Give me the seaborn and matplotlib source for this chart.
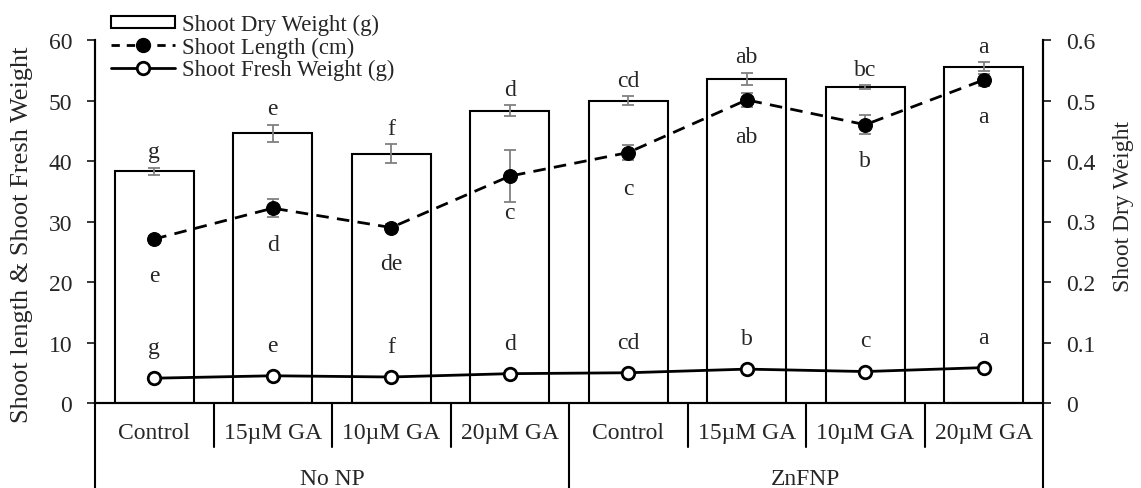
import numpy as np
import pandas as pd
import matplotlib
matplotlib.use("Agg")
import matplotlib.pyplot as plt
import matplotlib.transforms as mtransforms
from matplotlib.patches import Patch
from matplotlib.lines import Line2D
import seaborn as sns

# values
groups = ["No NP", "ZnFNP"]
treatments = ["Control", "15\u00b5M GA", "10\u00b5M GA", "20\u00b5M GA"]

dry_weight = [0.383, 0.446, 0.412, 0.483, 0.500, 0.536, 0.522, 0.556]
dry_err = [0.006, 0.014, 0.016, 0.009, 0.007, 0.010, 0.003, 0.007]
dry_letters = ["g", "e", "f", "d", "cd", "ab", "bc", "a"]

shoot_length = [27.1, 32.2, 29.0, 37.5, 41.4, 50.1, 46.0, 53.4]
length_err = [0.5, 1.5, 0.6, 4.3, 1.3, 1.2, 1.6, 1.0]
length_letters = ["e", "d", "de", "c", "c", "ab", "b", "a"]

fresh_weight = [4.1, 4.5, 4.3, 4.85, 5.0, 5.6, 5.2, 5.85]
fresh_letters = ["g", "e", "f", "d", "cd", "b", "c", "a"]

sns.set_style("white")
plt.rcParams["font.family"] = ["Liberation Serif", "DejaVu Serif"]

df = pd.DataFrame({
    "pos": np.arange(len(dry_weight)),
    "dry": dry_weight,
    "length": shoot_length,
    "fresh": fresh_weight,
})

fig = plt.figure(figsize=(11.41, 4.89), dpi=100)
ax = fig.add_axes([95 / 1141, 85 / 489, 948 / 1141, 363 / 489])

# bars on the right hand scale
sns.barplot(data=df, x="pos", y="dry", ax=ax, color="white", saturation=1,
            edgecolor="black", linewidth=1.5, width=0.67, errorbar=None)
ax.errorbar(df["pos"], df["dry"], yerr=dry_err, fmt="none", ecolor="#808080",
            elinewidth=1.3, capsize=4, capthick=1.3)
ax.set_ylim(0, 0.6)
ax.set_xlim(-0.5, 7.5)

# lines on the left hand scale
axl = ax.twinx()
sns.lineplot(data=df, x="pos", y="length", ax=axl, color="black", lw=2,
             marker="o", markersize=10, mfc="black", mec="black")
axl.errorbar(df["pos"], df["length"], yerr=length_err, fmt="none", ecolor="#808080",
             elinewidth=1.3, capsize=4, capthick=1.3, zorder=1)
sns.lineplot(data=df, x="pos", y="fresh", ax=axl, color="black", lw=2,
             marker="o", markersize=9, mfc="white", mec="black", mew=2)
axl.lines[0].set_dashes((4.5, 3))
axl.set_ylim(0, 60)
axl.set_xlim(-0.5, 7.5)

# twinx moves the original ticks to the left, so swap them back
ax.yaxis.tick_right()
ax.yaxis.set_label_position("right")
ax.set_yticks([0, 0.1, 0.2, 0.3, 0.4, 0.5, 0.6])
ax.set_yticklabels(["0", "0.1", "0.2", "0.3", "0.4", "0.5", "0.6"])
ax.set_ylabel("Shoot Dry Weight", fontsize=17)
ax.yaxis.set_label_coords(1.074, 0.545)

axl.yaxis.tick_left()
axl.yaxis.set_label_position("left")
axl.set_yticks(range(0, 61, 10))
axl.set_ylabel("Shoot length & Shoot Fresh Weight", fontsize=19)
axl.yaxis.set_label_coords(-0.065, 0.467)

for a in (ax, axl):
    a.set_xlabel("")
    a.tick_params(axis="x", length=0, labelbottom=False)
    a.tick_params(axis="y", labelsize=17, length=5.5, width=1.3, pad=11,
                  direction="out")
    a.spines["top"].set_visible(False)
    for s in ("left", "right", "bottom"):
        a.spines[s].set_linewidth(1.5)
        a.spines[s].set_color("black")

# significance letters
for i in range(len(dry_weight)):
    ax.annotate(dry_letters[i], (i, dry_weight[i] + dry_err[i]), xytext=(0, 4),
                textcoords="offset points", ha="center", va="bottom", fontsize=17)
    axl.annotate(length_letters[i], (i, shoot_length[i]), xytext=(0, -26),
                 textcoords="offset points", ha="center", va="center", fontsize=17)
    axl.annotate(fresh_letters[i], (i, fresh_weight[i]), xytext=(0, 22),
                 textcoords="offset points", ha="center", va="center", fontsize=17)

# two level category axis
trans = mtransforms.blended_transform_factory(ax.transData, ax.transAxes)
labels = treatments * len(groups)
for i, lab in enumerate(labels):
    ax.text(i, -0.08, lab, transform=trans, ha="center", va="center", fontsize=17)
for g, name in enumerate(groups):
    ax.text(g * 4 + 1.5, -0.208, name, transform=trans, ha="center", va="center", fontsize=17)
for b in [0.5, 1.5, 2.5, 4.5, 5.5, 6.5]:
    ax.add_line(Line2D([b, b], [0, -0.121], transform=trans, color="black",
                       lw=1.5, clip_on=False))
for b in [-0.5, 3.5, 7.5]:
    ax.add_line(Line2D([b, b], [0, -0.25], transform=trans, color="black",
                       lw=1.5, clip_on=False))

handles = [
    Patch(facecolor="white", edgecolor="black", linewidth=1.5),
    Line2D([], [], color="black", lw=2, dashes=(3, 2.5), marker="o",
           markersize=10, mfc="black", mec="black"),
    Line2D([], [], color="black", lw=2, marker="o", markersize=9,
           mfc="white", mec="black", mew=2),
]
fig.legend(handles, ["Shoot Dry Weight (g)", "Shoot Length (cm)", "Shoot Fresh Weight (g)"],
           loc="upper left", bbox_to_anchor=(111 / 1141, 1 - 15 / 489), frameon=False,
           fontsize=16.4, borderpad=0, borderaxespad=0, labelspacing=0.05,
           handlelength=2.8, handleheight=0.45, handletextpad=0.3)

fig.savefig("out.png", dpi=100)
